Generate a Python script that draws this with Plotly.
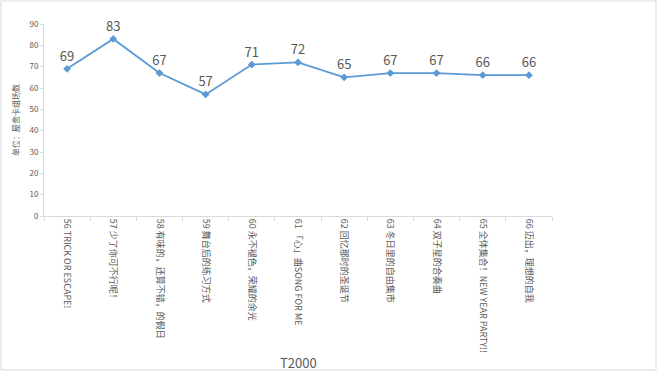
import plotly.graph_objects as go

categories = [
    "56 TRICK OR ESCAPE!",
    "57 少了你可不行呢！",
    "58 有味的，还算不错，的假日",
    "59 舞台后的练习方式",
    "60 永不褪色，荣耀的余光",
    "61 「心」曲SONG FOR ME",
    "62 回忆那时的圣诞节",
    "63 冬日里的自由集市",
    "64 双子星的合奏曲",
    "65 全体集合！NEW YEAR PARTY!!",
    "66 迈出，理想的自我",
]
values = [69, 83, 67, 57, 71, 72, 65, 67, 67, 66, 66]
y_ticks = [0, 10, 20, 30, 40, 50, 60, 70, 80, 90]

FONT = "Noto Sans CJK SC"
GREY = "#595959"
LINE = "#5B9BD5"

fig = go.Figure()
fig.add_trace(go.Scatter(
    x=categories, y=values, mode="lines+markers+text",
    line=dict(color=LINE, width=1.8),
    marker=dict(symbol="diamond", size=6, color=LINE),
    text=[str(v) for v in values], textposition="top center",
    textfont=dict(family=FONT, size=13, color=GREY),
    cliponaxis=False, hoverinfo="skip",
))

W, H = 660, 372
L, R, T, B = 44, 552, 24, 216
pw, ph = R - L, B - T
def px(x): return (x - L) / pw
def py(y): return (B - y) / ph

fig.add_shape(type="rect", xref="paper", yref="paper",
              x0=px(1), x1=px(656), y0=py(370), y1=py(1),
              line=dict(color="#d9d9d9", width=1), fillcolor="rgba(0,0,0,0)", layer="below")

fig.add_annotation(text="T2000", xref="paper", yref="paper", x=0.5, y=py(362),
                   xanchor="center", yanchor="middle", showarrow=False,
                   font=dict(family=FONT, size=13, color=GREY))

fig.update_layout(
    width=W, height=H,
    margin=dict(l=L, r=W - R, t=T, b=H - B),
    paper_bgcolor="white", plot_bgcolor="white",
    showlegend=False,
    font=dict(family=FONT, color=GREY),
    xaxis=dict(
        type="category", range=[-0.5, len(categories) - 0.5],
        tickangle=90, tickson="boundaries",
        ticks="outside", ticklen=4, tickcolor="#d9d9d9",
        showline=True, linecolor="#d9d9d9", linewidth=1,
        showgrid=False, zeroline=False,
        tickfont=dict(family=FONT, size=9, color=GREY),
        automargin=False,
    ),
    yaxis=dict(
        range=[0, 90], tickvals=y_ticks,
        ticks="outside", ticklen=3, tickcolor="#d9d9d9",
        showline=True, linecolor="#d9d9d9", linewidth=1,
        showgrid=False, zeroline=False,
        tickfont=dict(family=FONT, size=8, color=GREY),
        title=dict(text="单位：屋舍卡组场数", font=dict(family=FONT, size=8, color=GREY), standoff=8),
        automargin=False,
    ),
)

fig.write_html("out.html", config={"displayModeBar": False},
               post_script="document.body.style.margin='0';")
